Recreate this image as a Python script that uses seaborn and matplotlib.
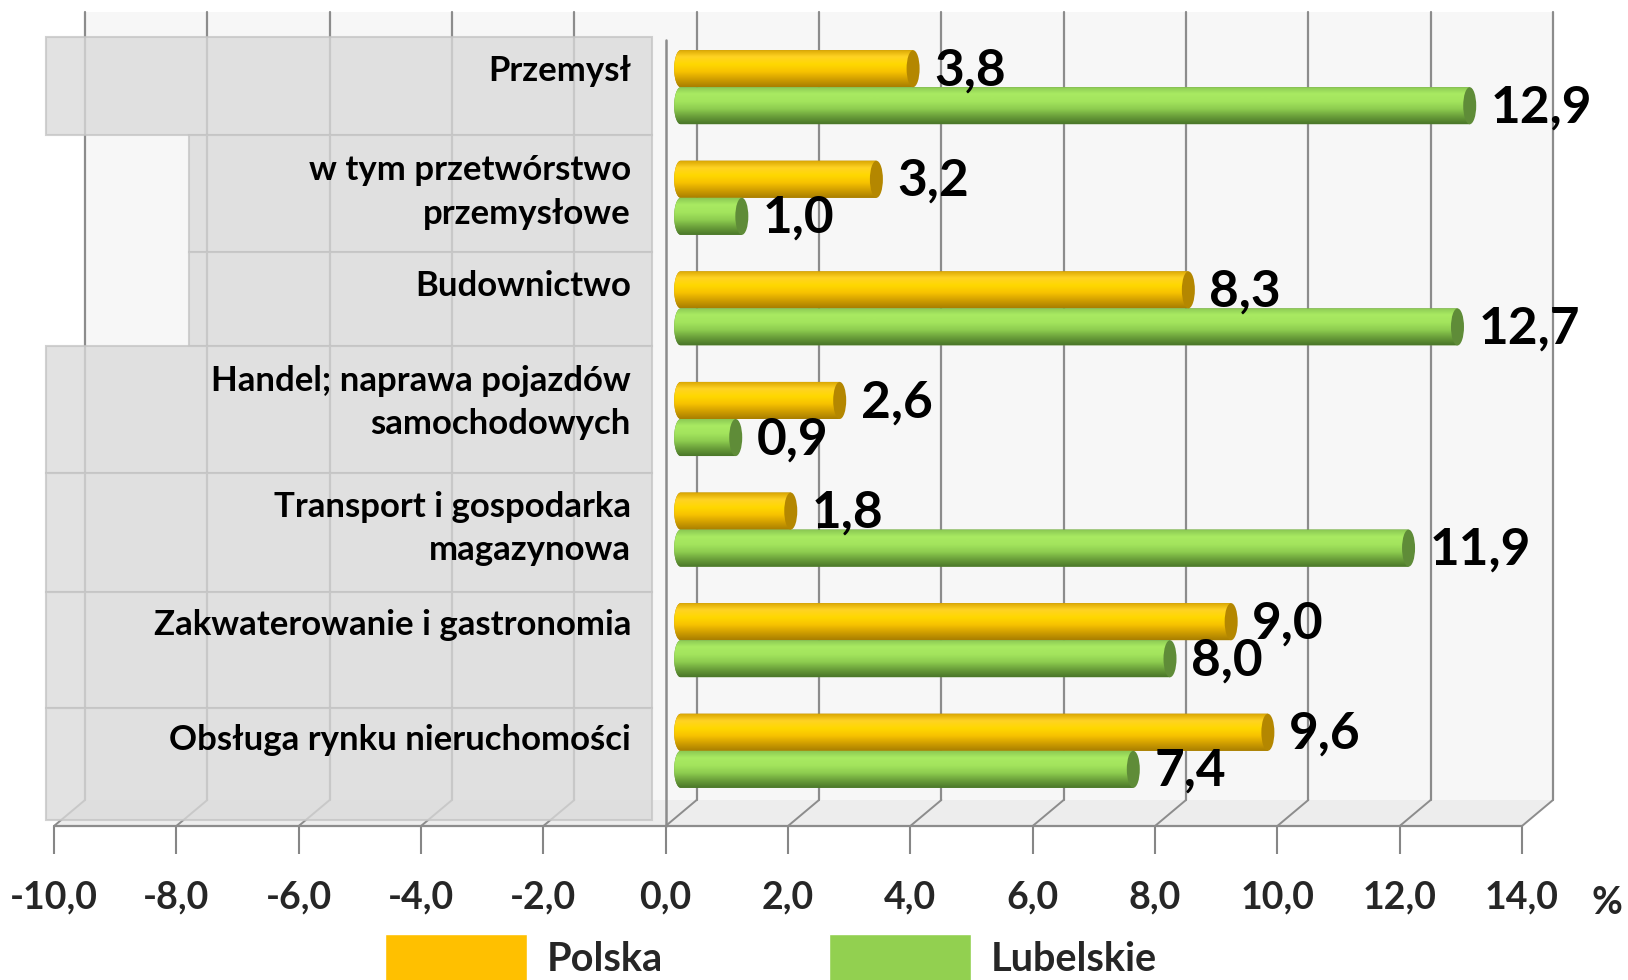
import numpy as np
import pandas as pd
import matplotlib
matplotlib.use('Agg')
import matplotlib.pyplot as plt
import seaborn as sns
from matplotlib import font_manager
from matplotlib.patches import Rectangle, Polygon, Ellipse, Patch
from matplotlib.transforms import ScaledTranslation
from matplotlib.colors import LinearSegmentedColormap

# dane z wykresu
kategorie = ['Przemysł', 'w tym przetwórstwo\nprzemysłowe', 'Budownictwo',
             'Handel; naprawa pojazdów\nsamochodowych', 'Transport i gospodarka\nmagazynowa',
             'Zakwaterowanie i gastronomia', 'Obsługa rynku nieruchomości']
polska = [3.8, 3.2, 8.3, 2.6, 1.8, 9.0, 9.6]
lubelskie = [12.9, 1.0, 12.7, 0.9, 11.9, 8.0, 7.4]
serie = ['Polska', 'Lubelskie']
x_ticks = list(range(-10, 15, 2))

df = pd.DataFrame({
    'kategoria': kategorie * 2,
    'wartosc': polska + lubelskie,
    'seria': [serie[0]] * len(kategorie) + [serie[1]] * len(kategorie),
})

sns.set_theme(style='white')
names = {f.name for f in font_manager.fontManager.ttflist}
font = 'Liberation Sans Narrow' if 'Liberation Sans Narrow' in names else 'Lato'
plt.rcParams['font.family'] = [font, 'DejaVu Sans']
plt.rcParams['font.weight'] = 'bold'

W, H = 1628, 980
fig = plt.figure(figsize=(W / 100, H / 100), dpi=100)
ax = fig.add_axes([54 / W, (H - 826) / H, 1468 / W, (826 - 12.5) / H])

# px -> data helpers (front plane of the 3d box)
def xpx(p):
    return -10 + (p - 54) / 61.17

def ypx(p):
    return (p - 87.2) / 110.6

dxb = 31 / 61.17  # back wall shift

# back wall + floor
ax.add_patch(Rectangle((-10 + dxb, ypx(12.5)), 24, ypx(800) - ypx(12.5),
                       fc='#F7F7F7', ec='none', zorder=0, clip_on=False))
ax.add_patch(Polygon([(-10, ypx(826)), (14, ypx(826)), (14 + dxb, ypx(800)), (-10 + dxb, ypx(800))],
                     closed=True, fc='#EDEDED', ec='none', zorder=0.5, clip_on=False))
for t in x_ticks:
    ax.plot([t + dxb, t + dxb], [ypx(12.5), ypx(800)], color='#8C8C8C', lw=1.6, zorder=1, clip_on=False)
    ax.plot([t + dxb, t], [ypx(800), ypx(826)], color='#8C8C8C', lw=1.4, zorder=1, clip_on=False)
ax.plot([-10, 14], [ypx(826), ypx(826)], color='#8C8C8C', lw=1.6, zorder=1, clip_on=False)
ax.plot([0, 0], [ypx(40), ypx(826)], color='#8C8C8C', lw=1.8, zorder=2, clip_on=False)

# grey label panels
boxes = [(45.7, 37.4, 135), (189, 135, 252), (189, 252, 346), (45.7, 346, 472.5),
         (45.7, 472.5, 592), (45.7, 592, 708), (45.7, 708, 820)]
for l, t, b in boxes:
    ax.add_patch(Rectangle((xpx(l), ypx(t)), xpx(652) - xpx(l), ypx(b) - ypx(t),
                           fc='#DADADA', alpha=0.78, ec='#C4C4C4', lw=1.5, zorder=2, clip_on=False))

label_y = [70.6, 192, 285.5, 402.4, 528.6, 625, 740.4]
for txt, yy in zip(kategorie, label_y):
    ax.text(xpx(631), ypx(yy), txt, ha='right', va='center', multialignment='right',
            fontsize=25, fontweight='bold', color='black', linespacing=1.45, zorder=5)

# bars
sns.barplot(data=df, x='wartosc', y='kategoria', hue='seria', orient='h', width=0.67,
            palette=['#FFC000', '#92D050'], saturation=1, legend=False, ax=ax, zorder=3)

grad_colors = {
    'Polska': ['#D6A200', '#FFD324', '#FFD800', '#F7C200', '#D09E00', '#A87E00'],
    'Lubelskie': ['#88C552', '#A9EA62', '#A3E45D', '#8ECD50', '#6A9F3A', '#4A7629'],
}
cap_colors = {'Polska': '#B48700', 'Lubelskie': '#5F8C38'}
mid = ax.transData + ScaledTranslation(15 / 100, 0, fig.dpi_scale_trans)
lab_tr = ax.transData + ScaledTranslation(36 / 100, 0, fig.dpi_scale_trans)
cap_w = 13 / 61.17
grad = np.linspace(0, 1, 128).reshape(-1, 1)

for cont, s in zip(ax.containers, serie):
    cmap = LinearSegmentedColormap.from_list(s, grad_colors[s])
    for bar in cont:
        x0, y0 = bar.get_x(), bar.get_y()
        w, h = bar.get_width(), bar.get_height()
        yc = y0 + h / 2
        bar.set_visible(False)
        th = np.linspace(np.pi / 2, 3 * np.pi / 2, 30)
        verts = [(x0 + w, y0), (x0 + w, y0 + h)] + \
                list(zip(x0 + cap_w / 2 * np.cos(th), yc + h / 2 * np.sin(th)))
        body = Polygon(verts, closed=True, fc=cap_colors[s], ec='none', zorder=3, transform=mid)
        ax.add_patch(body)
        im = ax.imshow(grad, cmap=cmap, aspect='auto', interpolation='bicubic',
                       extent=[x0 - cap_w / 2, x0 + w, y0 + h, y0], zorder=3.1)
        im.set_transform(mid)
        im.set_clip_path(body)
        ax.add_patch(Ellipse((x0 + w, yc), cap_w, h, fc=cap_colors[s], ec='none', zorder=4, transform=mid))
        ax.text(x0 + w, yc + 0.02, f'{w:.1f}'.replace('.', ','), transform=lab_tr,
                ha='left', va='center', fontsize=37, fontweight='bold', color='black', zorder=6)

ax.set_xlim(-10, 14)
ax.set_ylim(ypx(826), ypx(12.5))
ax.set_xticks(x_ticks)
ax.set_xticklabels([f'{t:.1f}'.replace('.', ',') for t in x_ticks])
ax.tick_params(axis='x', bottom=True, length=20, width=1.5, color='#868686', pad=19,
               labelsize=27, direction='out')
ax.set_yticks([])
ax.set_xlabel('')
ax.set_ylabel('')
for sp in ax.spines.values():
    sp.set_visible(False)
ax.patch.set_visible(False)

fig.text(1607 / W, 1 - 903 / H, '%', fontsize=27, fontweight='bold', ha='center', va='center')

leg = fig.legend(handles=[Patch(fc='#FFC000'), Patch(fc='#92D050')], labels=serie,
                 loc='upper left', bbox_to_anchor=(385 / W, 1 - 934 / H), ncol=2, frameon=False,
                 fontsize=28.5, handlelength=3.59, handleheight=1.5, handletextpad=0.5,
                 columnspacing=4.19, borderpad=0, borderaxespad=0)
leg.set_zorder(-1)

fig.savefig('out.png', dpi=100)
